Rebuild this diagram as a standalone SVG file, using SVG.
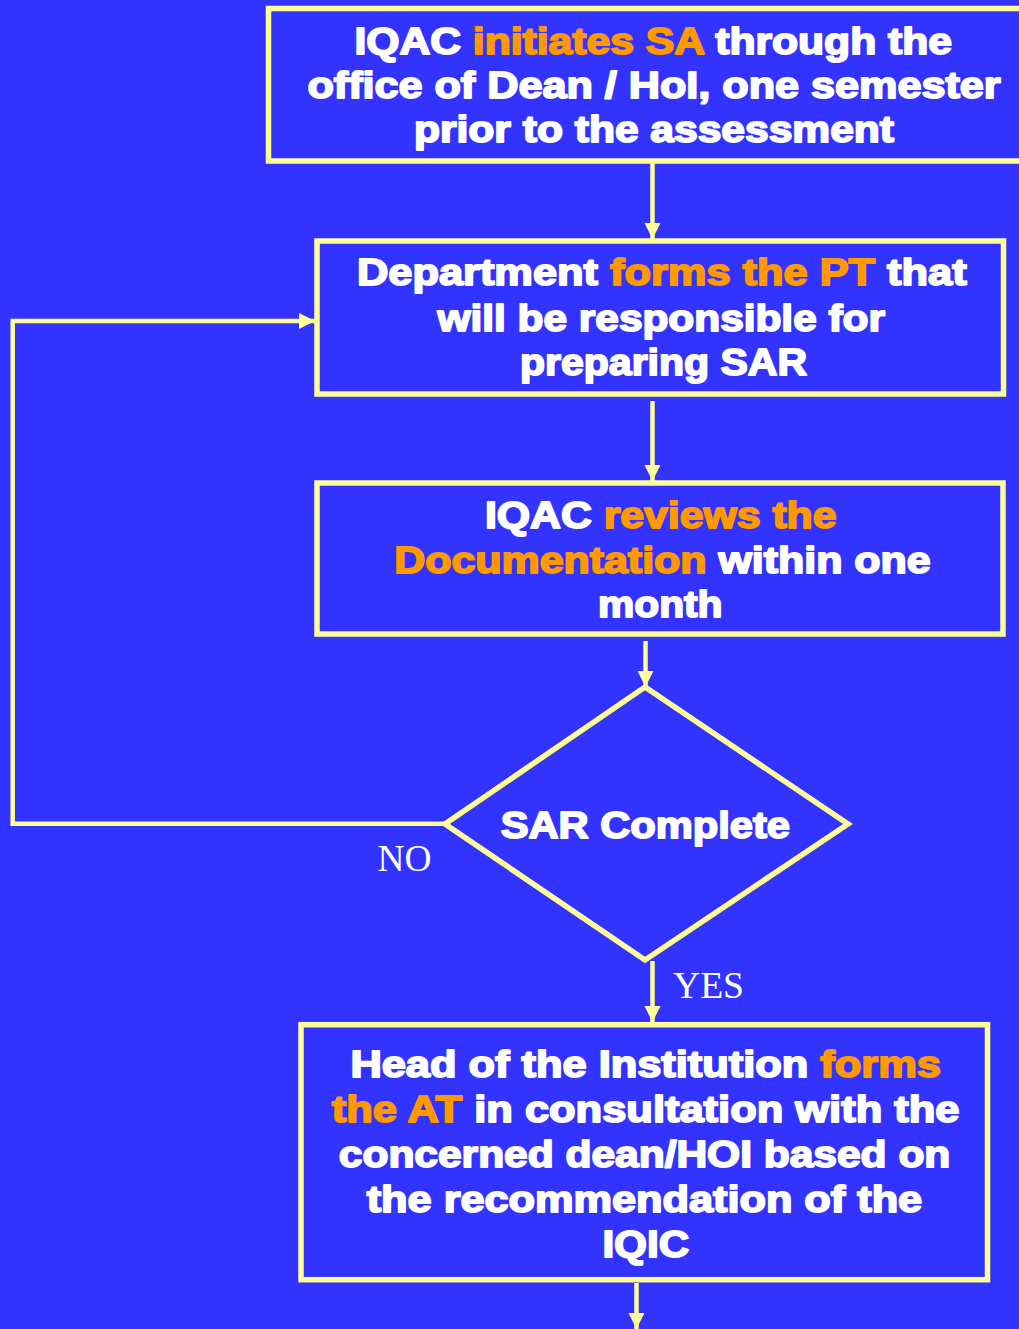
<svg xmlns="http://www.w3.org/2000/svg" width="1019" height="1329" viewBox="0 0 1019 1329">
<defs>
<style>
.box{fill:#3333FF;stroke:#FFFF99;stroke-width:5.5}
.t{font-family:"Liberation Sans",Arial,sans-serif;font-weight:bold;font-size:37px;stroke-width:1.8;stroke-linejoin:round}
.w{fill:#FFFFFF;stroke:#FFFFFF}
.o{fill:#FF9900;stroke:#FF9900}
.lbl{font-family:"Liberation Serif","Times New Roman",serif;font-size:37px;fill:#FFFFFF}
.c{fill:none;stroke:#FFFF99;stroke-width:4.5}
</style>
<marker id="ah" markerUnits="userSpaceOnUse" markerWidth="17" markerHeight="17" viewBox="0 0 17 17" refX="16" refY="8.5" orient="auto">
<path d="M0,0.5 L16,8.5 L0,16.5 Z" fill="#FFFF99"/>
</marker>
</defs>
<rect x="0" y="0" width="1019" height="1329" fill="#3333FF"/>

<g id="connectors">
<line class="c" x1="652.5" y1="163" x2="652.5" y2="239" marker-end="url(#ah)"/>
<line class="c" x1="652.5" y1="401" x2="652.5" y2="481" marker-end="url(#ah)"/>
<line class="c" x1="645.5" y1="641" x2="645.5" y2="687" marker-end="url(#ah)"/>
<line class="c" x1="652.5" y1="961" x2="652.5" y2="1022" marker-end="url(#ah)"/>
<polyline class="c" points="445,823.7 12.7,823.7 12.7,321 315,321" stroke-linejoin="miter" marker-end="url(#ah)"/>
<line class="c" x1="636.5" y1="1283" x2="636.5" y2="1329" marker-end="url(#ah)"/>
<text class="lbl" x="377.5" y="870.7" textLength="54" lengthAdjust="spacingAndGlyphs">NO</text>
<text class="lbl" x="673" y="998.3" textLength="71" lengthAdjust="spacingAndGlyphs">YES</text>
</g>

<g id="node-initiate">
<rect class="box" x="268.5" y="8.5" width="770" height="152.5"/>
<text class="t" x="354.4" y="53.5" textLength="597.6" lengthAdjust="spacingAndGlyphs"><tspan class="w">IQAC </tspan><tspan class="o">initiates SA</tspan><tspan class="w"> through the</tspan></text>
<text class="t w" x="307.4" y="98.3" textLength="693.2" lengthAdjust="spacingAndGlyphs">office of Dean / HoI, one semester</text>
<text class="t w" x="414" y="142" textLength="480" lengthAdjust="spacingAndGlyphs">prior to the assessment</text>
</g>

<g id="node-department">
<rect class="box" x="317" y="241" width="686.5" height="153"/>
<text class="t" x="357" y="285" textLength="609.6" lengthAdjust="spacingAndGlyphs"><tspan class="w">Department </tspan><tspan class="o">forms the PT</tspan><tspan class="w"> that</tspan></text>
<text class="t w" x="437.5" y="330.7" textLength="447.5" lengthAdjust="spacingAndGlyphs">will be responsible for</text>
<text class="t w" x="520" y="375" textLength="287" lengthAdjust="spacingAndGlyphs">preparing SAR</text>
</g>

<g id="node-review">
<rect class="box" x="317" y="483" width="686" height="151"/>
<text class="t" x="485" y="528.3" textLength="351.5" lengthAdjust="spacingAndGlyphs"><tspan class="w">IQAC </tspan><tspan class="o">reviews the</tspan></text>
<text class="t" x="394.2" y="572.7" textLength="536.4" lengthAdjust="spacingAndGlyphs"><tspan class="o">Documentation</tspan><tspan class="w"> within one</tspan></text>
<text class="t w" x="598" y="616.7" textLength="124.5" lengthAdjust="spacingAndGlyphs">month</text>
</g>

<g id="node-decision">
<polygon class="box" points="645,687 848,824 645,960 445,824"/>
<text class="t w" x="500.7" y="838.3" textLength="289.3" lengthAdjust="spacingAndGlyphs">SAR Complete</text>
</g>

<g id="node-head">
<rect class="box" x="301" y="1024.7" width="686.5" height="255"/>
<text class="t" x="350.4" y="1076.7" textLength="590.5" lengthAdjust="spacingAndGlyphs"><tspan class="w">Head of the Institution </tspan><tspan class="o">forms</tspan></text>
<text class="t" x="331.8" y="1121.7" textLength="627.7" lengthAdjust="spacingAndGlyphs"><tspan class="o">the AT</tspan><tspan class="w"> in consultation with the</tspan></text>
<text class="t w" x="338.8" y="1166.7" textLength="611.5" lengthAdjust="spacingAndGlyphs">concerned dean/HOI based on</text>
<text class="t w" x="366.7" y="1211.7" textLength="555.5" lengthAdjust="spacingAndGlyphs">the recommendation of the</text>
<text class="t w" x="602.4" y="1256.7" textLength="86.8" lengthAdjust="spacingAndGlyphs">IQIC</text>
</g>
</svg>
